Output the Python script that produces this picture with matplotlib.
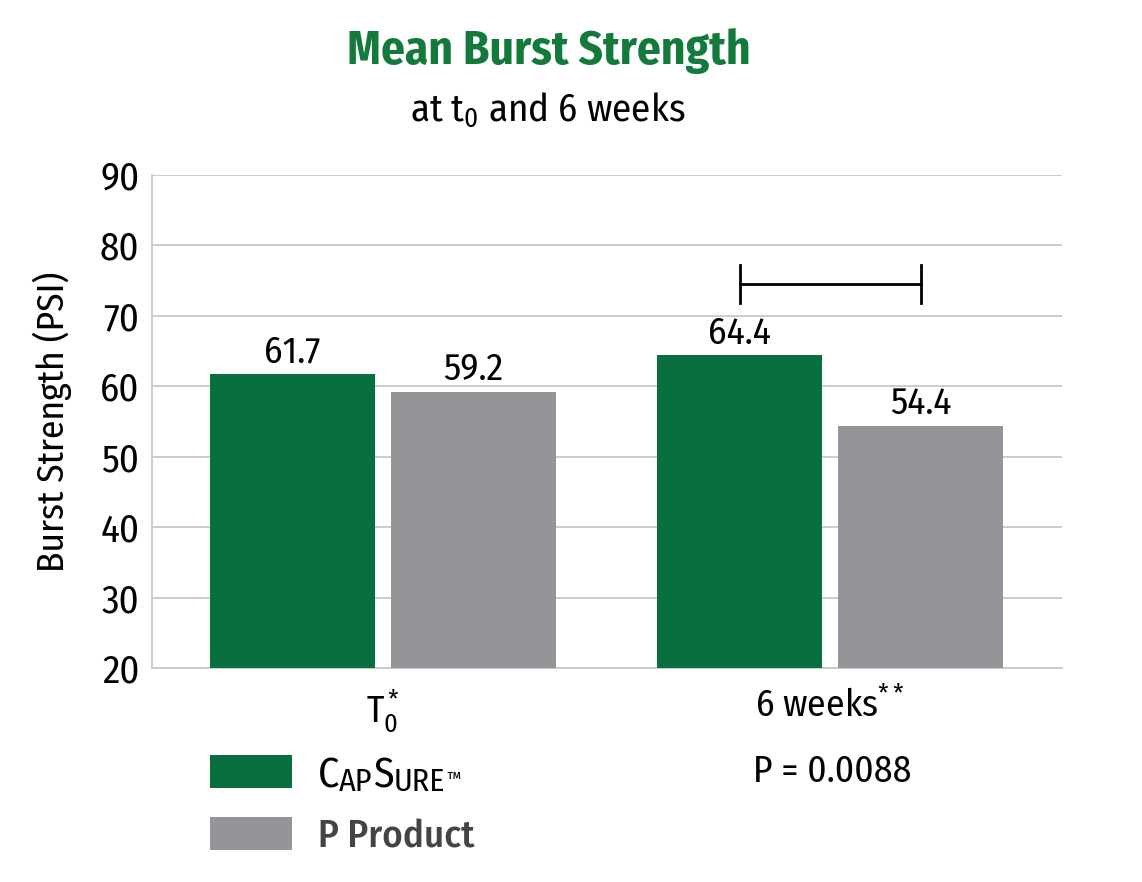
import matplotlib
matplotlib.use("Agg")
import matplotlib.pyplot as plt
from matplotlib.patches import Rectangle

# Data
groups = ["T$_0^*$", "6 weeks$^{**}$"]
capsure = [61.7, 64.4]
p_product = [59.2, 54.4]
p_value = "P = 0.0088"

green = "#08703e"
gray = "#939598"

fam = "Fira Sans Condensed"
plt.rcParams["font.family"] = [fam, "DejaVu Sans"]
plt.rcParams["mathtext.fontset"] = "custom"
plt.rcParams["mathtext.rm"] = fam
plt.rcParams["mathtext.it"] = fam
plt.rcParams["mathtext.bf"] = fam + ":bold"
plt.rcParams["mathtext.default"] = "rm"

W, H = 1142, 882
fig = plt.figure(figsize=(W / 100, H / 100), dpi=100)
ax = fig.add_axes([152 / W, 1 - 668 / H, (1062 - 152) / W, (668 - 175) / H])


def px(x, y):
    return x / W, 1 - y / H


x = [0, 1]
w = 0.369
off = 0.2025
b1 = ax.bar([i - off for i in x], capsure, w, color=green, zorder=3)
b2 = ax.bar([i + off for i in x], p_product, w, color=gray, zorder=3)

for bars, vals in ((b1, capsure), (b2, p_product)):
    for r, v in zip(bars, vals):
        ax.annotate(f"{v:.1f}", (r.get_x() + r.get_width() / 2, v),
                    xytext=(0, 3), textcoords="offset points",
                    ha="center", va="bottom", fontsize=27)

ax.set_ylim(20, 90)
ax.set_xlim(-0.517, 1.519)
ax.set_yticks(range(20, 91, 10))
ax.grid(axis="y", color="#c8c8c8", linewidth=1.3, zorder=0)
for s in ["top", "right"]:
    ax.spines[s].set_visible(False)
for s in ["left", "bottom"]:
    ax.spines[s].set_color("#c8c8c8")
    ax.spines[s].set_linewidth(1.3)
ax.tick_params(length=0, labelsize=28, pad=9)
ax.tick_params(axis="x", pad=14)
ax.set_xticks(x)
ax.set_xticklabels(groups, fontsize=27)
ax.set_ylabel("Burst Strength (PSI)", fontsize=27, labelpad=20)

# significance bracket between the 6-week bars
bx0, bx1 = 1 - off, 1 + off
ax.plot([bx0, bx1], [74.5, 74.5], color="black", lw=2, zorder=4)
ax.plot([bx0, bx0], [71.8, 77.2], color="black", lw=2, zorder=4)
ax.plot([bx1, bx1], [71.8, 77.2], color="black", lw=2, zorder=4)

# titles
fig.text(*px(549, 52), "Mean Burst Strength", ha="center", va="center",
         fontsize=34, fontweight="bold", color="#137a3c")
fig.text(*px(548, 110), "at t$_0$ and 6 weeks", ha="center", va="center",
         fontsize=28, color="black")

fig.text(*px(832, 772), p_value, ha="center", va="center", fontsize=27)

# legend
fig.patches.append(Rectangle(px(210, 788), 82 / W, 33 / H, transform=fig.transFigure,
                             facecolor=green, edgecolor="none"))
fig.patches.append(Rectangle(px(210, 850), 82 / W, 33 / H, transform=fig.transFigure,
                             facecolor=gray, edgecolor="none"))

# "CapSure" in small caps, built from pieces
prev = fig.text(*px(318, 788), "C", fontsize=30, va="baseline", ha="left")
for part, size in (("AP", 23), ("S", 30), ("URE", 23)):
    prev = ax.annotate(part, xy=(1, 0), xycoords=prev, fontsize=size,
                       va="bottom", ha="left", annotation_clip=False)
ax.annotate("™", xy=(1, 1), xycoords=prev, xytext=(1, -2), textcoords="offset points",
            fontsize=13, va="top", ha="left", annotation_clip=False)
fig.text(*px(318, 848), "P Product", fontsize=28, va="baseline", ha="left",
         color="#444444", fontweight=500)

fig.savefig("out.png", dpi=100)
